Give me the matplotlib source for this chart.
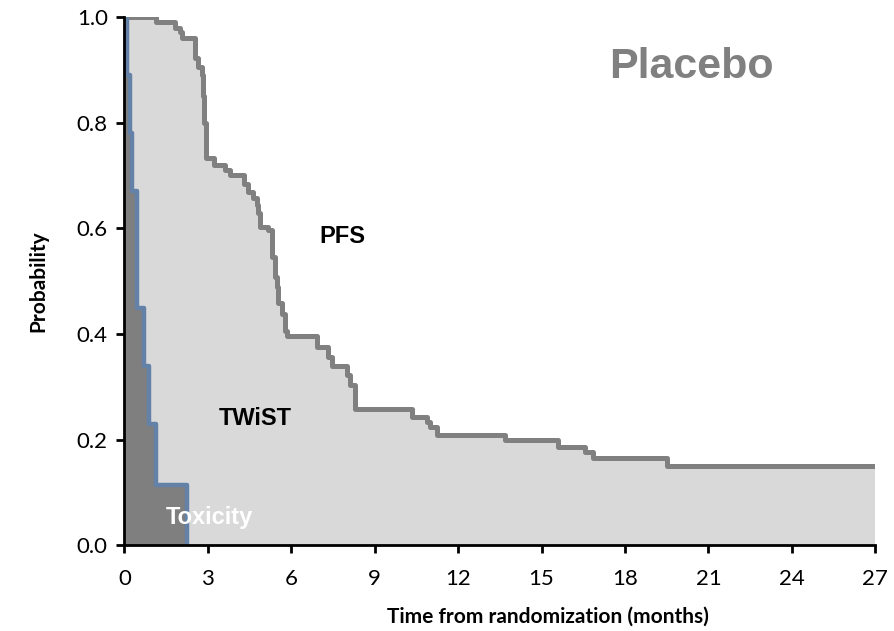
import matplotlib.pyplot as plt
import numpy as np

# PFS step curve: drop times (months) and survival after each drop
pfs_t = [0, 1.12, 1.82, 2.0, 2.06, 2.54, 2.65, 2.78, 2.83, 2.87, 2.93,
         3.22, 3.61, 3.79, 4.30, 4.45, 4.63, 4.76, 4.81, 4.87, 5.17,
         5.29, 5.41, 5.47, 5.53, 5.65, 5.77, 5.83, 6.91, 7.33, 7.45,
         7.99, 8.11, 8.29, 10.33, 10.87, 10.99, 11.23, 13.69, 15.60,
         16.56, 16.84, 19.50, 27.0]
pfs_s = [1.0, 0.991, 0.980, 0.972, 0.960, 0.922, 0.906, 0.890, 0.85, 0.80,
         0.733, 0.720, 0.711, 0.701, 0.685, 0.669, 0.657, 0.644, 0.629,
         0.603, 0.597, 0.546, 0.509, 0.490, 0.458, 0.439, 0.405, 0.396,
         0.376, 0.357, 0.340, 0.323, 0.304, 0.258, 0.244, 0.234, 0.224,
         0.210, 0.200, 0.186, 0.177, 0.166, 0.150, 0.150]

# time with toxicity curve
tox_t = [0, 0.10, 0.20, 0.28, 0.44, 0.71, 0.88, 1.12, 2.26]
tox_s = [1.0, 0.89, 0.78, 0.67, 0.45, 0.34, 0.23, 0.115, 0.0]

x_ticks = [0, 3, 6, 9, 12, 15, 18, 21, 24, 27]
y_ticks = [0.0, 0.2, 0.4, 0.6, 0.8, 1.0]

fig = plt.figure(figsize=(8.95, 6.31), dpi=100)
ax = fig.add_axes([0.139, 0.1355, 0.839, 0.8375])

# shaded areas under each curve
ax.fill_between(pfs_t, pfs_s, step='post', color='#d9d9d9', lw=0)
ax.fill_between(tox_t, tox_s, step='post', color='#7f7f7f', lw=0)

# step lines on top
ax.step(pfs_t, pfs_s, where='post', color='#808080', lw=3.6)
ax.step(tox_t + [tox_t[-1]], tox_s + [0.0], where='post',
        color='#6482a8', lw=3.2)

ax.set_xlim(0, 27)
ax.set_ylim(0, 1.0)
ax.set_xticks(x_ticks)
ax.set_yticks(y_ticks)
ax.set_yticklabels(['%.1f' % v for v in y_ticks])

for side in ['top', 'right']:
    ax.spines[side].set_visible(False)
for side in ['left', 'bottom']:
    ax.spines[side].set_linewidth(2)
ax.tick_params(direction='out', width=2, length=6, labelsize=16, pad=6)
ax.tick_params(axis='x', pad=11)
for lbl in ax.get_xticklabels() + ax.get_yticklabels():
    lbl.set_family('Lato')

ax.set_xlabel('Time from randomization (months)', family='Lato',
              fontweight='bold', fontsize=15)
ax.xaxis.set_label_coords(0.564, -0.115)
ax.set_ylabel('Probability', family='Lato', fontweight='bold',
              fontsize=15, labelpad=20)

# region labels
ax.text(20.4, 0.905, 'Placebo', color='#808080', fontsize=31,
        fontweight='bold', family='Liberation Sans', ha='center',
        va='center')
ax.text(7.85, 0.585, 'PFS', fontsize=17, fontweight='bold',
        family='Liberation Sans', ha='center', va='center')
ax.text(4.7, 0.24, 'TWiST', fontsize=17, fontweight='bold',
        family='Liberation Sans', ha='center', va='center')
ax.text(3.05, 0.053, 'Toxicity', color='white', fontsize=17,
        fontweight='bold', family='Liberation Sans', ha='center',
        va='center')

fig.savefig('out.png', dpi=100)
